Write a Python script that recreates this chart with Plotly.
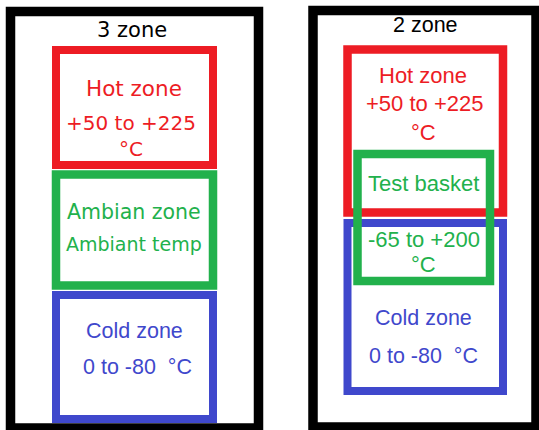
import plotly.graph_objects as go

# diagram content
titles = ["3 zone", "2 zone"]
left_labels = ["Hot zone", "+50 to +225", "°C", "Ambian zone", "Ambiant temp", "Cold zone", "0 to -80  °C"]
right_labels = ["Hot zone", "+50 to +225", "°C", "Test basket", "-65 to +200", "°C", "Cold zone", "0 to -80  °C"]

RED = "#ED1C24"
GREEN = "#22B14C"
BLUE = "#3F48CC"

W, H = 539, 430
fig = go.Figure()


def box(x0, y0, x1, y1, color, width):
    fig.add_shape(type="rect", x0=x0, y0=y0, x1=x1, y1=y1, xref="x", yref="y",
                  line=dict(color=color, width=width), fillcolor="rgba(0,0,0,0)", layer="above")


def label(x, y, text, color, size, family):
    fig.add_annotation(x=x, y=y, text=text, showarrow=False, xref="x", yref="y",
                       xanchor="center", yanchor="middle",
                       font=dict(color=color, size=size, family=family))


# left panel: 3 zone
box(10.5, 11.5, 258.5, 428, "black", 9.5)
box(56, 50, 213, 165, RED, 8)
box(56, 174.5, 213, 285.5, GREEN, 8.5)
box(56, 295, 213, 419, BLUE, 8)

TAH = "DejaVu Sans"
ARI = "Liberation Sans, Arial"
label(132, 30, titles[0], "black", 21, TAH)
label(134, 88, left_labels[0], RED, 21.5, TAH)
label(131, 123, left_labels[1], RED, 20, TAH)
label(131, 149, left_labels[2], RED, 20, TAH)
label(134, 212, left_labels[3], GREEN, 20.5, TAH)
label(134, 244, left_labels[4], GREEN, 19, TAH)
label(134, 331, left_labels[5], BLUE, 21.5, ARI)
label(137, 367, left_labels[6], BLUE, 21.5, ARI)

# right panel: 2 zone
box(313, 10.5, 536, 427, "black", 9.5)
box(347.5, 49.5, 503, 212.5, RED, 8.5)
box(347.5, 223, 503, 391, BLUE, 8)
box(357.5, 154, 490, 281, GREEN, 8.5)

label(425, 25, titles[1], "black", 21.5, ARI)
label(423, 75, right_labels[0], RED, 22, ARI)
label(424, 103, right_labels[1], RED, 22, ARI)
label(423, 132, right_labels[2], RED, 22, ARI)
label(423, 183, right_labels[3], GREEN, 22, ARI)
label(424, 239, right_labels[4], GREEN, 22, ARI)
label(423, 264, right_labels[5], GREEN, 22, ARI)
label(423, 318, right_labels[6], BLUE, 21.5, ARI)
label(423, 356, right_labels[7], BLUE, 21.5, ARI)

fig.update_layout(width=W, height=H, margin=dict(l=0, r=0, t=0, b=0),
                  plot_bgcolor="white", paper_bgcolor="white", showlegend=False)
fig.update_xaxes(range=[0, W], visible=False, fixedrange=True)
fig.update_yaxes(range=[H, 0], visible=False, fixedrange=True)

fig.write_html("out.html", config=dict(displayModeBar=False),
               post_script="document.body.style.margin='0';")
